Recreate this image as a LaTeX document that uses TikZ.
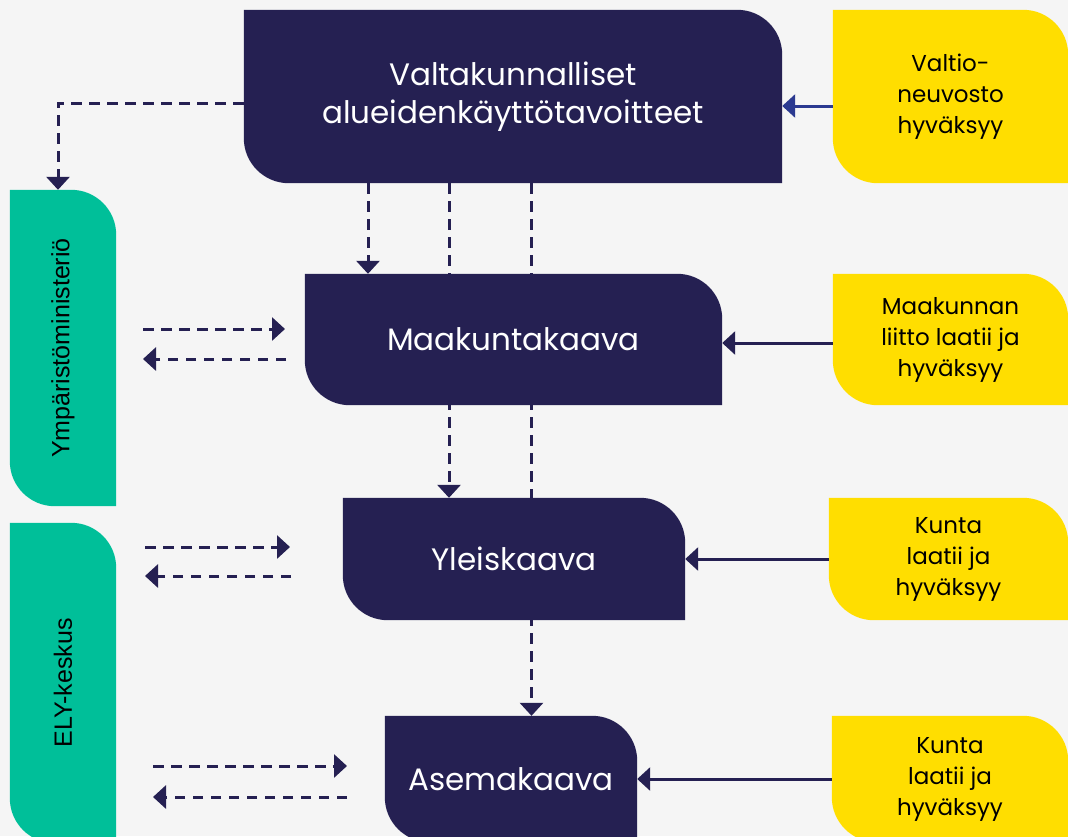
\documentclass[tikz,border=0pt]{standalone}
\usepackage{fontspec, graphicx}
\setmainfont{Poppins}
\newfontfamily\labelfont{Liberation Sans}
\usetikzlibrary{arrows.meta, backgrounds}

\definecolor{navy}{RGB}{37,32,82}
\definecolor{lemon}{RGB}{255,222,0}
\definecolor{mint}{RGB}{0,191,153}
\definecolor{paper}{RGB}{245,245,245}
\definecolor{linkblue}{RGB}{43,57,144}

\newcommand\leafshape[2]{%
    \fill[#2] (#1.north west) -- ([xshift=-45pt]#1.north east)
        arc[start angle=90, end angle=0, radius=45pt] -- (#1.south east)
        -- ([xshift=45pt]#1.south west)
        arc[start angle=270, end angle=180, radius=45pt] -- cycle;}

\tikzset{
    navybox/.style={text=white, align=center, inner sep=0pt, font=\fontsize{31}{38}\selectfont},
    yellowbox/.style={text=black, align=center, inner sep=0pt, font=\fontsize{23}{31}\selectfont},
    greenbox/.style={text=black, inner sep=0pt, font=\labelfont\fontsize{25}{30}\selectfont},
    flow/.style={navy, line width=3pt, dash pattern=on 10.5pt off 7.5pt, -{Triangle[length=13pt, width=23pt]}},
    feed/.style={navy, line width=3pt, -{Triangle[length=13pt, width=23pt]}},
}

\begin{document}
\begin{tikzpicture}[x=1pt, y=1pt]
    \useasboundingbox (0,0) rectangle (1068,-836);

    \node[navybox, minimum width=538pt, minimum height=173pt] (valt) at (513,-96.5) {Valtakunnalliset\\alueidenkäyttötavoitteet};
    \node[navybox, minimum width=417pt, minimum height=131pt] (maak) at (513.5,-339.5) {Maakuntakaava};
    \node[navybox, minimum width=342pt, minimum height=122pt] (yleis) at (514,-559) {Yleiskaava};
    \node[navybox, minimum width=252pt, minimum height=126pt] (asema) at (511,-779) {Asemakaava};

    \node[yellowbox, minimum width=235pt, minimum height=173pt] (valtio) at (950.5,-96.5) {Valtio-\\neuvosto\\hyväksyy};
    \node[yellowbox, minimum width=235pt, minimum height=131pt] (liitto) at (950.5,-339.5) {Maakunnan\\liitto laatii ja\\hyväksyy};
    \node[yellowbox, minimum width=239pt, minimum height=122pt] (kunta1) at (948.5,-559) {Kunta\\laatii ja\\hyväksyy};
    \node[yellowbox, minimum width=236pt, minimum height=126pt] (kunta2) at (950,-779) {Kunta\\laatii ja\\hyväksyy};

    \node[greenbox, minimum width=106pt, minimum height=316pt] (ymp) at (63,-348) {\rotatebox{90}{Ympäristöministeriö}};
    \node[greenbox, minimum width=106pt, minimum height=320pt] (ely) at (63,-683) {\rotatebox{90}{ELY-keskus}};

    \begin{scope}[on background layer]
        \fill[paper] (0,0) rectangle (1068,-836);
        \draw[flow] ([xshift=-145pt]valt.south) coordinate (d1) -- (d1 |- maak.north);
        \draw[flow] ([xshift=-64pt]valt.south) coordinate (d2) -- (d2 |- yleis.north);
        \draw[flow] ([xshift=18.5pt]valt.south) coordinate (d3) -- (d3 |- asema.north);
        \leafshape{valt}{navy}
        \leafshape{maak}{navy}
        \leafshape{yleis}{navy}
        \leafshape{asema}{navy}
        \leafshape{valtio}{lemon}
        \leafshape{liitto}{lemon}
        \leafshape{kunta1}{lemon}
        \leafshape{kunta2}{lemon}
        \leafshape{ymp}{mint}
        \leafshape{ely}{mint}
    \end{scope}

    \draw[flow] ([yshift=-6.5pt]valt.west) -| ([xshift=-5pt]ymp.north);

    \draw[feed, linkblue] ([yshift=-9.5pt]valtio.west) -- ([yshift=-9.5pt]valt.east);
    \draw[feed] ([yshift=-3.5pt]liitto.west) -- ([yshift=-3.5pt]maak.east);
    \draw[feed] (kunta1.west) -- (yleis.east);
    \draw[feed] (kunta2.west) -- (asema.east);

    \coordinate (m1) at (143,-329);
    \coordinate (m2) at (285,-329);
    \coordinate (m3) at (286,-359);
    \coordinate (m4) at (143,-359);
    \coordinate (y1) at (145,-547);
    \coordinate (y2) at (290,-547);
    \coordinate (y3) at (291,-576);
    \coordinate (y4) at (145,-576);
    \coordinate (a1) at (153,-766);
    \coordinate (a2) at (347,-766);
    \coordinate (a3) at (347,-797);
    \coordinate (a4) at (153,-797);
    \draw[flow] (m1) -- (m2);
    \draw[flow] (m3) -- (m4);
    \draw[flow] (y1) -- (y2);
    \draw[flow] (y3) -- (y4);
    \draw[flow] (a1) -- (a2);
    \draw[flow] (a3) -- (a4);
\end{tikzpicture}
\end{document}
